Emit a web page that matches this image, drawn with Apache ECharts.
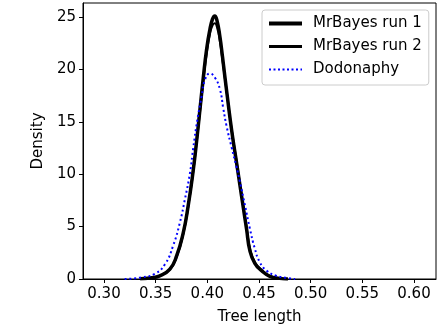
<!DOCTYPE html>
<html>
<head>
<meta charset="utf-8">
<script src="https://cdn.jsdelivr.net/npm/echarts@6/dist/echarts.min.js"></script>
<style>
  html, body { margin: 0; padding: 0; background: #fff; }
  #chart { width: 440px; height: 330px; }
</style>
</head>
<body>
<div id="chart"></div>
<script>
// values
const runOneX = [0.335, 0.3445, 0.354, 0.3638, 0.3703, 0.3767, 0.3815, 0.3864, 0.3897, 0.3929, 0.3961, 0.3993, 0.4025, 0.405, 0.4072, 0.4095, 0.4122, 0.4147, 0.417, 0.4195, 0.4219, 0.425, 0.4283, 0.4315, 0.4347, 0.438, 0.4412, 0.446, 0.4525, 0.4605, 0.470, 0.478];
const runOneY = [0.02, 0.1, 0.3, 0.95, 2.2, 4.4, 7.0, 10.4, 13.2, 16.2, 19.2, 21.9, 23.8, 24.8, 25.1, 24.6, 23.1, 21.2, 19.3, 17.3, 15.4, 13.2, 11.1, 9.0, 6.9, 4.75, 2.7, 1.5, 0.8, 0.25, 0.06, 0];

const runTwoX = [0.335, 0.3445, 0.354, 0.3638, 0.3703, 0.3767, 0.3815, 0.3864, 0.3897, 0.3929, 0.3961, 0.3993, 0.4025, 0.405, 0.4072, 0.4095, 0.4122, 0.4147, 0.417, 0.4195, 0.4219, 0.425, 0.4283, 0.4315, 0.4347, 0.438, 0.4412, 0.446, 0.4525, 0.4605, 0.470, 0.478];
const runTwoY = [0.02, 0.1, 0.3, 0.9, 2.1, 4.3, 6.9, 10.3, 13.1, 16.0, 18.9, 21.5, 23.4, 24.2, 24.4, 24.0, 22.7, 20.9, 19.2, 17.3, 15.4, 13.3, 11.2, 9.1, 7.0, 4.9, 2.9, 1.6, 0.85, 0.28, 0.07, 0];

const dodoX = [0.320, 0.3364, 0.3493, 0.359, 0.367, 0.3735, 0.3783, 0.3832, 0.3864, 0.3904, 0.3944, 0.3977, 0.4025, 0.4074, 0.4122, 0.4154, 0.4186, 0.4234, 0.428, 0.4315, 0.4365, 0.4412, 0.446, 0.4508, 0.4573, 0.467, 0.4767, 0.485];
const dodoY = [0, 0.15, 0.5, 1.4, 3.2, 5.4, 7.6, 10.1, 12.5, 15.2, 17.4, 19.0, 19.6, 19.2, 18.1, 16.3, 14.6, 12.6, 10.8, 9.3, 7.0, 4.8, 2.9, 1.6, 0.8, 0.3, 0.1, 0];

const seriesNames = ['MrBayes run 1', 'MrBayes run 2', 'Dodonaphy'];
const xTicks = [0.30, 0.35, 0.40, 0.45, 0.50, 0.55, 0.60];
const yTicks = [0, 5, 10, 15, 20, 25];

const pairs = (xs, ys) => xs.map((x, i) => [x, ys[i]]);
const font = 'DejaVu Sans';
const fs = 15;

const chart = echarts.init(document.getElementById('chart'));

chart.setOption({
  animation: false,
  textStyle: { fontFamily: font },
  grid: {
    left: 83,
    right: 4,
    top: 3,
    bottom: 50,
    show: true,
    borderColor: '#000',
    borderWidth: 1,
  },
  legend: {
    left: 262,
    top: 10,
    orient: 'vertical',
    itemWidth: 33,
    itemHeight: 14,
    itemGap: 8,
    padding: [6, 7, 8, 5],
    backgroundColor: 'rgba(255,255,255,0.8)',
    borderColor: '#cccccc',
    borderWidth: 1,
    borderRadius: 3,
    itemStyle: { opacity: 0 },
    textStyle: { fontFamily: font, fontSize: fs, color: '#000', padding: [0, 0, 0, 6] },
    data: [
      { name: seriesNames[0], lineStyle: { width: 4 } },
      { name: seriesNames[1], lineStyle: { width: 3 } },
      { name: seriesNames[2], lineStyle: { width: 2, type: [2, 2.5] } },
    ],
  },
  xAxis: {
    type: 'value',
    min: 0.2797,
    max: 0.6213,
    interval: 0.05,
    name: 'Tree length',
    nameLocation: 'middle',
    nameGap: 31,
    nameTextStyle: { fontFamily: font, fontSize: fs, color: '#000' },
    axisLine: { lineStyle: { color: '#000', width: 1 } },
    axisTick: { length: 4, lineStyle: { color: '#000' }, customValues: xTicks },
    axisLabel: {
      fontFamily: font, fontSize: fs, color: '#000', margin: 8,
      customValues: xTicks,
      formatter: (v) => v.toFixed(2),
    },
    splitLine: { show: false },
  },
  yAxis: {
    type: 'value',
    min: 0,
    max: 26.33,
    name: 'Density',
    nameLocation: 'middle',
    nameGap: 36,
    nameTextStyle: { fontFamily: font, fontSize: fs, color: '#000' },
    axisLine: { show: true, lineStyle: { color: '#000', width: 1 } },
    axisTick: { show: true, length: 4, lineStyle: { color: '#000' }, customValues: yTicks },
    axisLabel: {
      fontFamily: font, fontSize: fs, color: '#000', margin: 7,
      customValues: yTicks,
    },
    splitLine: { show: false },
  },
  series: [
    {
      name: seriesNames[0],
      type: 'line',
      smooth: 0.5,
      symbol: 'none',
      data: pairs(runOneX, runOneY),
      lineStyle: { color: '#000', width: 3.5 },
      itemStyle: { color: '#000' },
      z: 2,
    },
    {
      name: seriesNames[1],
      type: 'line',
      smooth: 0.5,
      symbol: 'none',
      data: pairs(runTwoX, runTwoY),
      lineStyle: { color: '#000', width: 2.2 },
      itemStyle: { color: '#000' },
      z: 3,
    },
    {
      name: seriesNames[2],
      type: 'line',
      smooth: 0.5,
      symbol: 'none',
      data: pairs(dodoX, dodoY),
      lineStyle: { color: '#0000ff', width: 2, type: [2, 2.8], cap: 'butt' },
      itemStyle: { color: '#0000ff' },
      z: 4,
    },
  ],
});
</script>
</body>
</html>
